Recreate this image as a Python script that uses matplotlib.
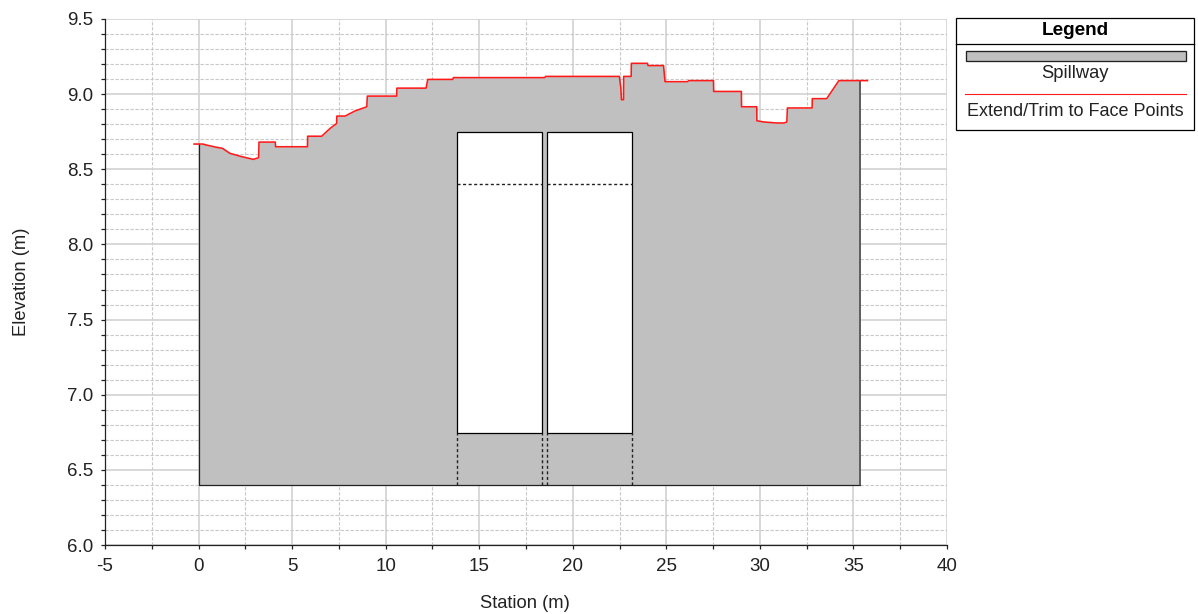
import matplotlib
matplotlib.use('Agg')
import matplotlib.pyplot as plt
from matplotlib.patches import Rectangle
from matplotlib.ticker import MultipleLocator

plt.rcParams['font.family'] = ['Liberation Sans', 'DejaVu Sans']
plt.rcParams['axes.unicode_minus'] = False

# face points
station = [-0.24, 0.22, 0.4, 0.97, 1.27, 1.68, 2.31, 2.93, 3.21, 3.23, 4.10, 4.12, 5.82, 5.83,
           6.58, 7.03, 7.38, 7.39, 7.83, 8.36, 8.99, 9.02, 10.59, 10.60, 12.16, 12.25, 13.58, 13.62,
           18.5, 18.55, 22.49, 22.57, 22.60, 22.71, 22.72, 23.12, 23.13, 23.99, 24.02, 24.85, 24.93,
           26.13, 26.2, 27.52, 27.53, 29.01, 29.02, 29.83, 29.84, 30.19, 30.9, 31.29, 31.44, 31.47,
           32.79, 32.80, 33.57, 34.22, 35.75]
elevation = [8.668, 8.668, 8.662, 8.646, 8.64, 8.606, 8.584, 8.566, 8.577, 8.681, 8.681, 8.65, 8.65, 8.72,
             8.72, 8.772, 8.805, 8.854, 8.854, 8.888, 8.916, 8.987, 8.987, 9.04, 9.04, 9.098, 9.098, 9.11,
             9.11, 9.118, 9.118, 9.04, 8.963, 8.963, 9.118, 9.118, 9.205, 9.205, 9.19, 9.19, 9.083,
             9.083, 9.09, 9.09, 9.018, 9.018, 8.916, 8.916, 8.823, 8.815, 8.808, 8.808, 8.815, 8.908,
             8.908, 8.97, 8.97, 9.09, 9.09]

deck_left = 0.0
deck_right = 35.33
deck_bottom = 6.4
deck_top_left = 8.668
deck_top_right = 9.09

gate_left = [13.81, 18.62]
gate_right = [18.33, 23.17]
gate_top = 8.748
gate_sill = 6.745
weir_crest = 8.40

W, H = 1198, 614
fig = plt.figure(figsize=(W / 100, H / 100), dpi=100)
ax = fig.add_axes([105 / W, 1 - 545 / H, (947 - 105) / W, (545 - 19) / H])

# spillway body, cut to the deck extents
body = ax.fill_between(station, elevation, deck_bottom, color='#c0c0c0', lw=0, zorder=2)
clip = Rectangle((deck_left, deck_bottom), deck_right - deck_left, 4, transform=ax.transData)
body.set_clip_path(clip)
ax.plot([deck_left, deck_left, deck_right], [deck_top_left, deck_bottom, deck_bottom],
        color='#222222', lw=0.9, zorder=3)
ax.plot([deck_right, deck_right], [deck_bottom, deck_top_right], color='#444444', lw=1.1, zorder=3)

dash = (0, (2.2, 1.8))
for left, right in zip(gate_left, gate_right):
    ax.add_patch(Rectangle((left, gate_sill), right - left, gate_top - gate_sill,
                           facecolor='white', edgecolor='black', lw=0.9, zorder=3))
    ax.plot([left, right], [weir_crest, weir_crest], color='#222222', lw=1.0, ls=dash, zorder=4)
    ax.plot([left, left], [deck_bottom, gate_sill], color='#222222', lw=1.0, ls=dash, zorder=4)
    ax.plot([right, right], [deck_bottom, gate_sill], color='#222222', lw=1.0, ls=dash, zorder=4)

ax.plot(station, elevation, color='#ff1a1a', lw=1.15, zorder=5)

ax.set_xlim(-5, 40)
ax.set_ylim(6, 9.5)
ax.xaxis.set_major_locator(MultipleLocator(5))
ax.xaxis.set_minor_locator(MultipleLocator(2.5))
ax.yaxis.set_major_locator(MultipleLocator(0.5))
ax.yaxis.set_minor_locator(MultipleLocator(0.1))
ax.yaxis.set_major_formatter(lambda v, pos: f'{v:.1f}')
ax.set_axisbelow(True)
ax.grid(which='major', color='#d2d2d2', lw=1.2, ls='-')
ax.grid(which='minor', color='#c8c8c8', lw=0.8, ls=(0, (3, 1.5)))
ax.tick_params(which='major', length=3.2, width=0.9, color='#222222', labelsize=13.5, labelcolor='#222222', pad=5)
ax.tick_params(axis='x', which='major', pad=6)
ax.tick_params(which='minor', length=3.2, width=0.9, color='#222222')

ax.spines['top'].set_visible(False)
ax.spines['right'].set_visible(False)
for s in ['left', 'bottom']:
    ax.spines[s].set_color('#222222')
    ax.spines[s].set_linewidth(0.9)

ax.set_xlabel('Station (m)', fontsize=13.2, color='#222222')
ax.set_ylabel('Elevation (m)', fontsize=13.2, color='#222222')
ax.xaxis.set_label_coords((525 - 105) / (947 - 105), -(604 - 545) / (545 - 19), transform=ax.transAxes)
ax.yaxis.set_label_coords((21 - 105) / (947 - 105), (545 - 282) / (545 - 19), transform=ax.transAxes)
ax.xaxis.label.set_va('center')
ax.yaxis.label.set_va('center')

# legend box, laid out in pixels
lg = fig.add_axes([0, 0, 1, 1], facecolor='none')
lg.set_xlim(0, W)
lg.set_ylim(H, 0)
lg.axis('off')
lg.add_patch(Rectangle((956, 18), 238, 112, facecolor='white', edgecolor='black', lw=0.9))
lg.plot([956, 1194], [44, 44], color='black', lw=0.9)
lg.text(1075, 30.5, 'Legend', ha='center', va='center', fontsize=13.7, fontweight='bold', color='black')
lg.add_patch(Rectangle((965.5, 50.5), 220, 10.5, facecolor='#c0c0c0', edgecolor='#222222', lw=0.95))
lg.text(1075, 73.5, 'Spillway', ha='center', va='center', fontsize=13.2, color='#222222')
lg.plot([965, 1186], [93.5, 93.5], color='#ff1a1a', lw=0.8)
lg.text(1075.5, 111, 'Extend/Trim to Face Points', ha='center', va='center', fontsize=13.0, color='#222222')

fig.savefig('out.png', dpi=100)
